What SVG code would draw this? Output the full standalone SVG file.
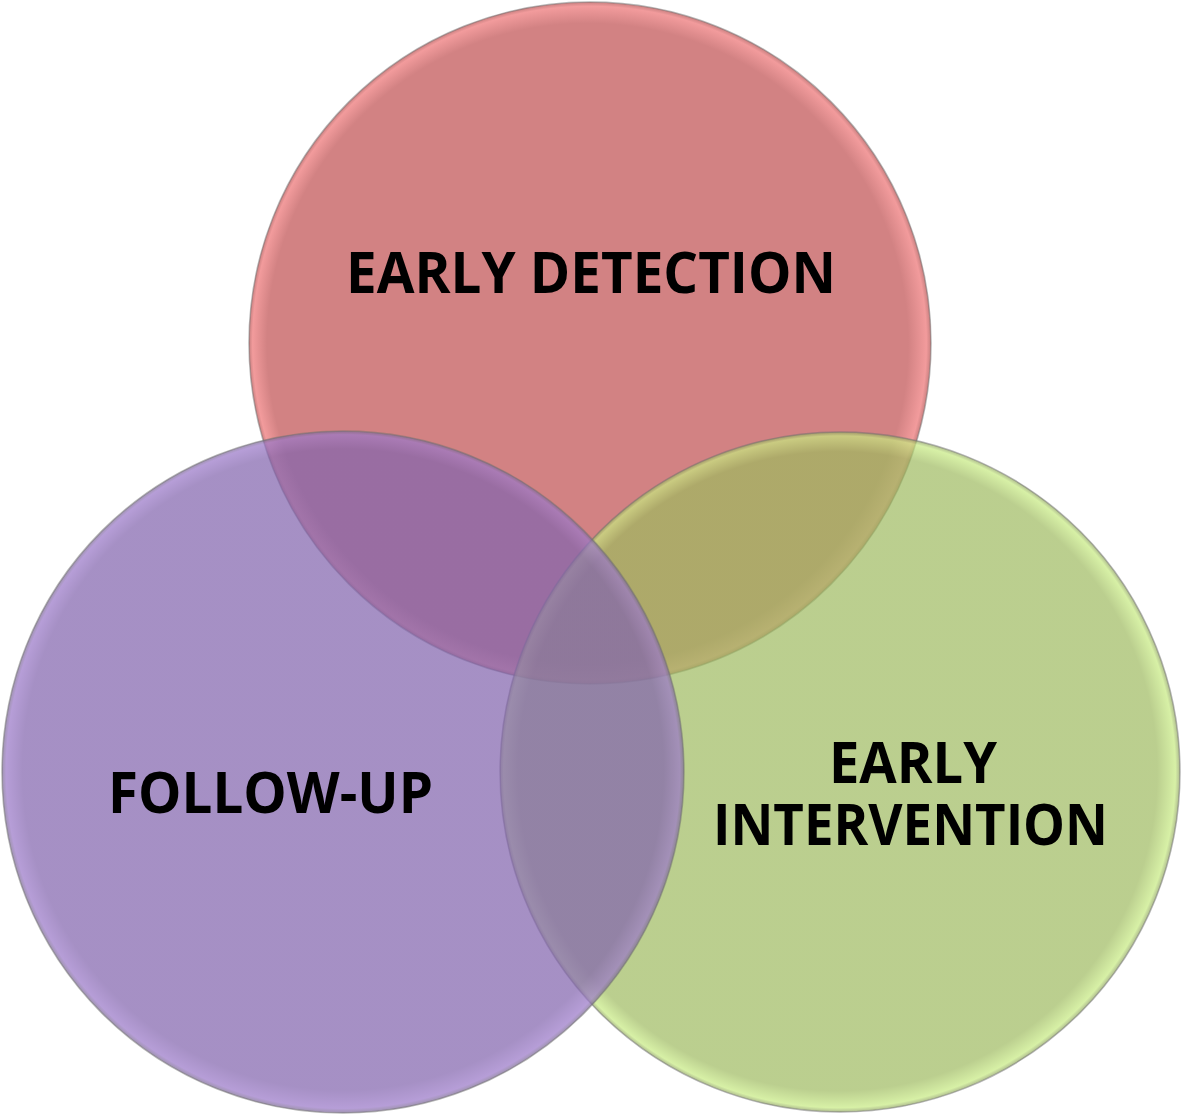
<svg xmlns="http://www.w3.org/2000/svg" width="1183" height="1115" viewBox="0 0 1183 1115">
  <style>
    .lbl { font-family: "Open Sans", "DejaVu Sans", sans-serif; font-weight: bold; font-size: 57px; fill: #000; text-anchor: middle; }
    .ring { stroke: #6f6f6f; stroke-opacity: 0.5; stroke-width: 1.5; }
  </style>
  <defs>
    <radialGradient id="gRed" cx="0.5" cy="0.5" r="0.5" fx="0.44" fy="0.52">
      <stop offset="0.94" stop-color="#d28283"/>
      <stop offset="0.988" stop-color="#f29b9c"/>
      <stop offset="1" stop-color="#c98080"/>
    </radialGradient>
    <radialGradient id="gPur" cx="0.5" cy="0.5" r="0.5" fx="0.5" fy="0.44">
      <stop offset="0.94" stop-color="#8365ae"/>
      <stop offset="0.988" stop-color="#9a78c8"/>
      <stop offset="1" stop-color="#7a6a90"/>
    </radialGradient>
    <radialGradient id="gGrn" cx="0.5" cy="0.5" r="0.5" fx="0.44" fy="0.48">
      <stop offset="0.94" stop-color="#9eba5f"/>
      <stop offset="0.988" stop-color="#c6ea80"/>
      <stop offset="1" stop-color="#8da060"/>
    </radialGradient>
  </defs>
  <rect width="1183" height="1115" fill="#ffffff"/>
  <g id="node-early-detection">
    <circle class="ring" cx="590" cy="343" r="341" fill="url(#gRed)"/>
    <text class="lbl" x="591" y="293" textLength="490" lengthAdjust="spacingAndGlyphs">EARLY DETECTION</text>
  </g>
  <g id="node-early-intervention">
    <circle class="ring" cx="840" cy="772" r="340" fill="url(#gGrn)" fill-opacity="0.7"/>
    <text class="lbl" x="913" y="783" textLength="168" lengthAdjust="spacingAndGlyphs">EARLY</text>
    <text class="lbl" x="910.5" y="845" textLength="395" lengthAdjust="spacingAndGlyphs">INTERVENTION</text>
  </g>
  <g id="node-follow-up">
    <circle class="ring" cx="343" cy="772" r="341" fill="url(#gPur)" fill-opacity="0.72"/>
    <text class="lbl" x="270.5" y="813" textLength="325" lengthAdjust="spacingAndGlyphs">FOLLOW-UP</text>
  </g>
  <g id="connectors"/>
</svg>
